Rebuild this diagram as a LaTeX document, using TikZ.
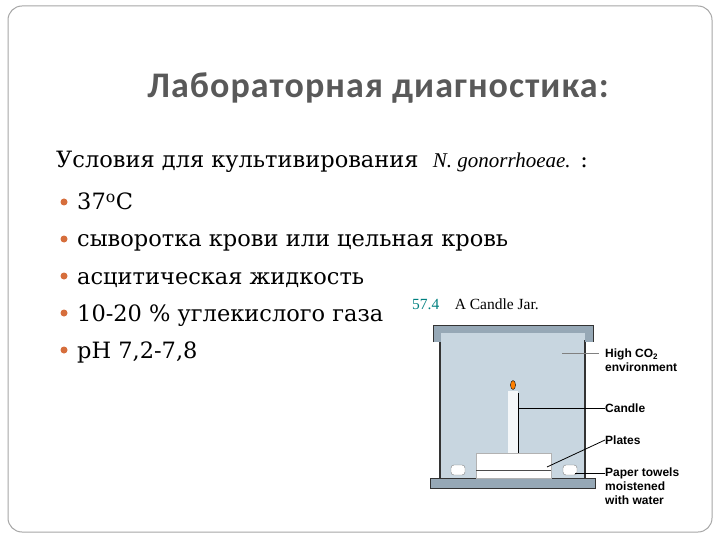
\documentclass[tikz,border=0pt]{standalone}
\usepackage{fontspec}
\usetikzlibrary{shapes.geometric}
\setmainfont{DejaVu Serif}
\newfontfamily\titlefont[LetterSpace=3]{Carlito}
\newfontfamily\labfont{Liberation Sans}
\newfontfamily\capfont{Liberation Serif}
\definecolor{jarfill}{RGB}{200,214,224}
\definecolor{lidfill}{RGB}{150,168,182}
\definecolor{bulcol}{RGB}{214,110,60}
\begin{document}
\begin{tikzpicture}[x=1pt,y=-1pt,
  body/.style={anchor=base west,font=\fontsize{22.5}{26}\selectfont,inner sep=0},
  bul/.style={circle,fill=bulcol,inner sep=0,minimum size=7pt},
  lab/.style={anchor=west,font=\labfont\bfseries\fontsize{12}{14}\selectfont,align=left,inner sep=0},
  lead/.style={black,line width=0.8pt}]
\useasboundingbox (0,0) rectangle (720,540);
\fill[white] (0,0) rectangle (720,540);
\draw[gray!70,line width=1pt,rounded corners=14pt] (8,6) rectangle (712,532);
\node[font=\titlefont\bfseries\fontsize{36}{40}\selectfont,text=black!65] (title) at (378,88) {Лабораторная диагностика:};
\node[body] (cond) at (56,168) {Условия для культивирования \ {\capfont\itshape\fontsize{21}{22}\selectfont N. gonorrhoeae.} :};
\foreach \y/\t [count=\i] in {210/37\textsuperscript{о}С,247/сыворотка крови или цельная кровь,284/асцитическая жидкость,321/10-20 \% углекислого газа,358/pH 7{,}2-7{,}8}{
  \node[bul] (b\i) at (64,\y-8) {};
  \node[body] (t\i) at (77,\y) {\t};
}
% candle jar
\node[anchor=base west,font=\capfont\fontsize{15.5}{16}\selectfont,inner sep=0] (cap) at (412,309) {\textcolor{teal}{57.4}\quad A Candle Jar.};
\fill[jarfill] (440,332) rectangle (585,480);
\draw[black!80,line width=1.2pt] (440,340) -- (440,480) (585,340) -- (585,480);
\fill[lidfill] (433,325) rectangle (593,333);
\fill[lidfill] (433,325) rectangle (441,342);
\fill[lidfill] (585,325) rectangle (593,342);
\draw[black!80,line width=0.8pt] (433,342) -- (433,325) -- (593,325) -- (593,342);
\fill[lidfill] (430,478) rectangle (595,488);
\draw[black!80,line width=0.8pt] (430,478) rectangle (595,488);
\node[draw=gray!60,fill=white,minimum width=75pt,minimum height=25pt,inner sep=0] (plates) at (513.5,465.5) {};
\draw[black!70] (476,470) -- (551,470);
\node[fill=white!80!jarfill,minimum width=10pt,minimum height=62pt,inner sep=0] (candle) at (513,422) {};
\node[ellipse,fill=orange,draw=black,inner sep=0,minimum width=5pt,minimum height=9pt] (flame) at (513,385) {};
\draw[lead] (518,393) -- (518,453);
\node[draw=gray,fill=white,inner sep=0,minimum width=14pt,minimum height=10pt,rounded corners=3pt] (t1w) at (458,470) {};
\node[draw=gray,fill=white,inner sep=0,minimum width=14pt,minimum height=10pt,rounded corners=3pt] (t2w) at (570,470) {};
\node[lab] (co2) at (605,360) {High CO\textsubscript{2}\\environment};
\node[lab] (cl) at (605,408) {Candle};
\node[lab] (pl) at (605,440) {Plates};
\node[lab] (pt) at (605,486) {Paper towels\\moistened\\with water};
\coordinate (c1) at (562,353);
\draw[gray,line width=0.6pt] (c1) -- (599,353);
\coordinate (c2) at (518,408);
\draw[lead] (c2) -- (cl.west);
\coordinate (c3) at (547,467);
\draw[lead] (c3) -- (pl.west);
\coordinate (c4) at (575,473);
\draw[lead] (c4) -- (pt.west |- c4);
\end{tikzpicture}
\end{document}
